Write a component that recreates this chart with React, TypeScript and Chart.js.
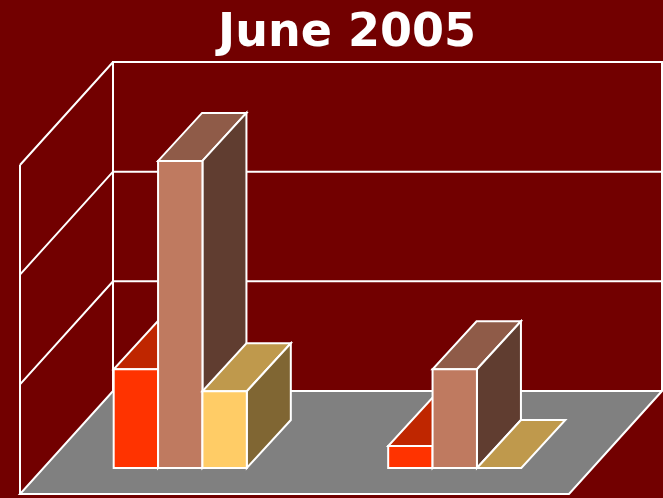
import React, { useEffect, useRef } from "react";
import { Chart, registerables } from "chart.js";

Chart.register(...registerables);

const TITLE = "June 2005";
const categories = ["Group A", "Group B"];
const seriesNames = ["Series 1", "Series 2", "Series 3"];
const series1 = [9, 2];
const series2 = [28, 9];
const series3 = [7, 0];
const yMax = 30;
const yStep = 10;

const BG = "#720000";
const FLOOR = "#808080";
const LINE = "#FFFFFF";
const frontColors = ["#FF3300", "#BF7A60", "#FFCC66"];
const topColors = ["#BF2600", "#8F5B48", "#BF994C"];
const sideColors = ["#802000", "#603D30", "#806633"];

const threeD = {
  id: "threeD",
  beforeDraw(chart: any) {
    const ctx = chart.ctx;
    ctx.save();
    ctx.fillStyle = BG;
    ctx.fillRect(0, 0, chart.width, chart.height);
    ctx.restore();
  },
  beforeDatasetsDraw(chart: any) {
    const ctx = chart.ctx;
    const ca = chart.chartArea;
    const ys = chart.scales.y;
    const fx = -23, fy = 26; // floor front offset from bar plane
    const bx = 70, by = -77; // back wall offset from bar plane
    const y0 = ys.getPixelForValue(0);
    const yTop = ys.getPixelForValue(yMax);
    ctx.save();
    ctx.lineWidth = 2;
    ctx.strokeStyle = LINE;
    // floor
    ctx.beginPath();
    ctx.moveTo(ca.left + fx, y0 + fy);
    ctx.lineTo(ca.right + fx, y0 + fy);
    ctx.lineTo(ca.right + bx, y0 + by);
    ctx.lineTo(ca.left + bx, y0 + by);
    ctx.closePath();
    ctx.fillStyle = FLOOR;
    ctx.fill();
    ctx.stroke();
    // back wall frame
    ctx.beginPath();
    ctx.moveTo(ca.left + bx, y0 + by);
    ctx.lineTo(ca.left + bx, yTop + by);
    ctx.lineTo(ca.right + bx, yTop + by);
    ctx.lineTo(ca.right + bx, y0 + by);
    ctx.stroke();
    // left wall vertical
    ctx.beginPath();
    ctx.moveTo(ca.left + fx, y0 + fy);
    ctx.lineTo(ca.left + fx, yTop + fy);
    ctx.stroke();
    // gridlines on side and back walls
    for (let v = yStep; v <= yMax; v += yStep) {
      const y = ys.getPixelForValue(v);
      ctx.beginPath();
      ctx.moveTo(ca.left + fx, y + fy);
      ctx.lineTo(ca.left + bx, y + by);
      ctx.lineTo(ca.right + bx, y + by);
      ctx.stroke();
    }
    ctx.restore();
  },
  afterDatasetsDraw(chart: any) {
    const ctx = chart.ctx;
    const dx = 44, dy = -48;
    ctx.save();
    ctx.lineWidth = 2;
    ctx.strokeStyle = LINE;
    const n = chart.data.labels.length;
    for (let i = 0; i < n; i++) {
      chart.data.datasets.forEach((_: any, d: number) => {
        const el = chart.getDatasetMeta(d).data[i];
        const l = el.x - el.width / 2;
        const r = el.x + el.width / 2;
        const t = el.y;
        const b = el.base;
        // top face
        ctx.beginPath();
        ctx.moveTo(l, t);
        ctx.lineTo(r, t);
        ctx.lineTo(r + dx, t + dy);
        ctx.lineTo(l + dx, t + dy);
        ctx.closePath();
        ctx.fillStyle = topColors[d];
        ctx.fill();
        ctx.stroke();
        // side face
        if (b - t > 0.5) {
          ctx.beginPath();
          ctx.moveTo(r, t);
          ctx.lineTo(r + dx, t + dy);
          ctx.lineTo(r + dx, b + dy);
          ctx.lineTo(r, b);
          ctx.closePath();
          ctx.fillStyle = sideColors[d];
          ctx.fill();
          ctx.stroke();
        }
        // front face
        ctx.beginPath();
        ctx.rect(l, t, r - l, b - t);
        ctx.fillStyle = frontColors[d];
        ctx.fill();
        ctx.stroke();
      });
    }
    ctx.restore();
  },
  afterDraw(chart: any) {
    const ctx = chart.ctx;
    ctx.save();
    ctx.fillStyle = "#FFFFFF";
    ctx.font = 'bold 46px "DejaVu Sans"';
    ctx.textAlign = "center";
    ctx.textBaseline = "alphabetic";
    ctx.fillText(TITLE, 347, 46);
    ctx.restore();
  },
};

export default function App() {
  const ref = useRef<HTMLCanvasElement>(null);
  useEffect(() => {
    document.body.style.margin = "0";
    document.body.style.background = BG;
    const values = [series1, series2, series3];
    const chart = new Chart(ref.current!, {
      type: "bar",
      data: {
        labels: categories,
        datasets: seriesNames.map((name, k) => ({
          label: name,
          data: values[k],
          backgroundColor: "rgba(0,0,0,0)",
          borderWidth: 0,
        })),
      },
      options: {
        animation: false,
        responsive: true,
        maintainAspectRatio: false,
        events: [],
        layout: { padding: { left: 43, right: 71, top: 139, bottom: 30 } },
        datasets: { bar: { barPercentage: 1, categoryPercentage: 0.485 } },
        scales: {
          x: { display: false },
          y: { display: false, min: 0, max: yMax, ticks: { stepSize: yStep } },
        },
        plugins: {
          legend: { display: false },
          title: { display: false },
          tooltip: { enabled: false },
        },
      },
      plugins: [threeD],
    });
    return () => chart.destroy();
  }, []);
  return (
    <div style={{ position: "relative", width: 663, height: 498 }}>
      <canvas ref={ref} />
    </div>
  );
}
